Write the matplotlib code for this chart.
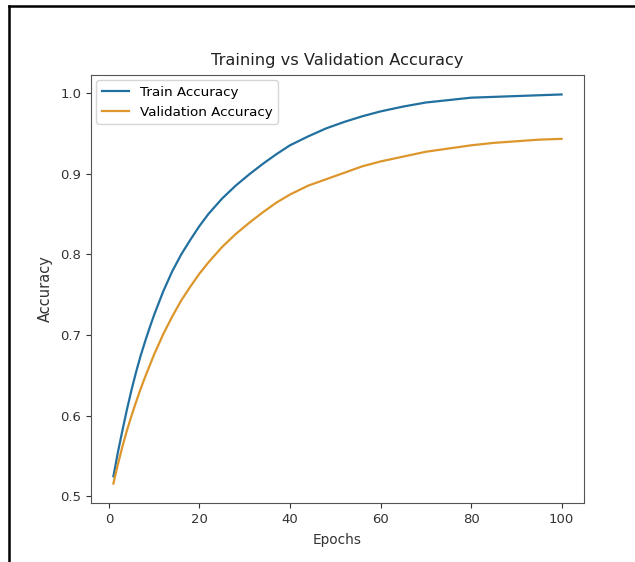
import matplotlib
matplotlib.use("Agg")
import matplotlib.pyplot as plt
from matplotlib.lines import Line2D

train_epochs = [1, 2, 3, 4, 5, 6, 7, 8, 9, 10, 12, 14, 16, 18, 20, 22, 25, 28, 31, 34, 37, 40,
                44, 48, 52, 56, 60, 65, 70, 75, 80, 85, 90, 95, 100]
train_acc = [0.525, 0.555, 0.582, 0.608, 0.632, 0.654, 0.674, 0.692, 0.709, 0.725, 0.754, 0.779,
             0.800, 0.818, 0.835, 0.850, 0.869, 0.885, 0.899, 0.912, 0.924, 0.935,
             0.946, 0.956, 0.964, 0.971, 0.977, 0.983, 0.988, 0.991, 0.994, 0.995, 0.996, 0.997, 0.998]
val_acc = [0.516, 0.540, 0.562, 0.582, 0.600, 0.617, 0.633, 0.648, 0.662, 0.676, 0.701, 0.723,
           0.743, 0.760, 0.776, 0.790, 0.809, 0.825, 0.839, 0.852, 0.864, 0.874,
           0.885, 0.893, 0.901, 0.909, 0.915, 0.921, 0.927, 0.931, 0.935, 0.938, 0.940, 0.942, 0.943]

title = "Training vs Validation Accuracy"
xlabel = "Epochs"
ylabel = "Accuracy"
labels = ["Train Accuracy", "Validation Accuracy"]

fig = plt.figure(figsize=(6.35, 5.62), dpi=100)
ax = fig.add_axes([91/635, 1-503/562, (584-91)/635, (503-75)/562])

ax.plot(train_epochs, train_acc, color="#22709f", lw=1.6, label=labels[0])
ax.plot(train_epochs, val_acc, color="#dc962c", lw=1.6, label=labels[1])

ax.set_xticks([0, 20, 40, 60, 80, 100])
ax.set_yticks([0.5, 0.6, 0.7, 0.8, 0.9, 1.0])
ax.tick_params(labelsize=9.5, colors="#333333", length=3.5)
for s in ax.spines.values():
    s.set_color("#555555")
ax.set_title(title, fontsize=11.7, color="#222222", pad=7)
ax.set_xlabel(xlabel, fontsize=9.8, color="#333333", labelpad=5)
ax.set_ylabel(ylabel, fontsize=10.5, color="#333333", labelpad=5)
ax.legend(loc="upper left", fontsize=9.7, frameon=True, borderaxespad=0.4)

# screenshot border (top and left)
fig.add_artist(Line2D([9/635, 1.0], [1-6/562, 1-6/562], transform=fig.transFigure, color="black", lw=1.8))
fig.add_artist(Line2D([9/635, 9/635], [0.0, 1-6/562], transform=fig.transFigure, color="black", lw=1.8))

fig.savefig("out.png", dpi=100)
